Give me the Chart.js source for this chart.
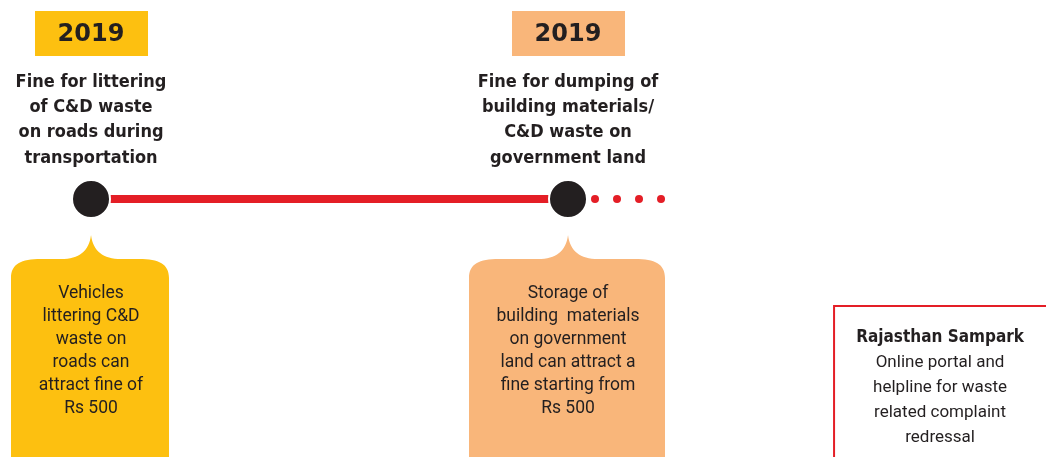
<html lang="en">

<head>
    <meta charset="UTF-8">
    <title>C&D waste fines - timeline</title>
    <script src="https://cdn.jsdelivr.net/npm/chart.js"></script>
    <style>
        html, body { margin: 0; padding: 0; background: #ffffff; }
        #wrap { position: relative; width: 1046px; height: 457px; }
    </style>
</head>

<body>
    <div id="wrap">
        <canvas id="chartCanvas"></canvas>
    </div>
    <script>
// timeline data
const positions = [0, 1];           // event slots along the timeline
const years = ['2019', '2019'];
const titles = [
    ['Fine for littering', 'of C&D waste', 'on roads during', 'transportation'],
    ['Fine for dumping of', 'building materials/', 'C&D waste on', 'government land']
];
const details = [
    ['Vehicles', 'littering C&D', 'waste on', 'roads can', 'attract fine of', 'Rs 500'],
    ['Storage of', 'building  materials', 'on government', 'land can attract a', 'fine starting from', 'Rs 500']
];
const trailEnd = 1.2;               // dotted continuation after last event
const noteAt = 1.78;
const noteTitle = 'Rajasthan Sampark';
const noteLines = ['Online portal and', 'helpline for waste', 'related complaint', 'redressal'];

// styles
const yearColors = ['#fdc010', '#f9b67a'];
const boxWidths = [158, 196];
const red = '#e41e26';
const ink = '#231f20';

// draws year tags, titles and the detail boxes around each node
const cardsPlugin = {
    id: 'cards',
    afterDraw(chart) {
        const ctx = chart.ctx;
        const xs = chart.scales.x;
        const y0 = chart.scales.y.getPixelForValue(0);
        const bottom = chart.height + 5;

        ctx.save();
        ctx.textAlign = 'center';
        ctx.textBaseline = 'middle';

        positions.forEach((p, i) => {
            const cx = xs.getPixelForValue(p);

            // year tag
            ctx.fillStyle = yearColors[i];
            ctx.fillRect(cx - 56, y0 - 188, 113, 45);
            ctx.fillStyle = ink;
            ctx.font = 'bold 24px "DejaVu Sans"';
            ctx.fillText(years[i], cx, y0 - 164);

            // title
            ctx.font = 'bold 18px "Liberation Sans Narrow", "DejaVu Sans Condensed"';
            titles[i].forEach((t, k) => ctx.fillText(t, cx, y0 - 117 + k * 25.3));

            // detail box with pointed top
            const w = boxWidths[i];
            const x0 = cx - w / 2 - 1, x1 = cx + w / 2 - 1;
            const yS = y0 + 60, yP = y0 + 36;
            ctx.beginPath();
            ctx.moveTo(x0, bottom);
            ctx.lineTo(x0, yS + 19);
            ctx.bezierCurveTo(x0, yS + 5, x0 + 10, yS, x0 + 30, yS);
            ctx.lineTo(cx - 30, yS);
            ctx.bezierCurveTo(cx - 12, yS, cx - 2, yS - 8, cx, yP);
            ctx.bezierCurveTo(cx + 2, yS - 8, cx + 12, yS, cx + 30, yS);
            ctx.lineTo(x1 - 30, yS);
            ctx.bezierCurveTo(x1 - 10, yS, x1, yS + 5, x1, yS + 19);
            ctx.lineTo(x1, bottom);
            ctx.closePath();
            ctx.fillStyle = yearColors[i];
            ctx.fill();

            ctx.fillStyle = ink;
            ctx.font = '17.5px Roboto';
            details[i].forEach((t, k) => ctx.fillText(t, cx, y0 + 95 + k * 23));
        });

        // note box, partly off the page
        const nx = xs.getPixelForValue(noteAt);
        ctx.strokeStyle = red;
        ctx.lineWidth = 2;
        ctx.strokeRect(nx - 106, y0 + 107, 260, 200);
        ctx.fillStyle = ink;
        ctx.font = 'bold 17px "Liberation Sans Narrow", "DejaVu Sans Condensed"';
        ctx.fillText(noteTitle, nx, y0 + 139);
        ctx.font = '17px Roboto';
        noteLines.forEach((t, k) => ctx.fillText(t, nx, y0 + 164 + k * 25));
        ctx.restore();
    }
};

const ctx = document.getElementById('chartCanvas').getContext('2d');
window.myChart = new Chart(ctx, {
    type: 'line',
    data: {
        datasets: [{
            // nodes
            data: positions.map(p => ({ x: p, y: 0 })),
            showLine: false,
            pointRadius: 19,
            pointBackgroundColor: ink,
            pointBorderColor: '#ffffff',
            pointBorderWidth: 2,
            order: 0
        }, {
            // solid line between events
            data: [{ x: positions[0], y: 0 }, { x: positions[positions.length - 1], y: 0 }],
            borderColor: red,
            borderWidth: 8,
            pointRadius: 0,
            order: 1
        }, {
            // dotted trail
            data: [{ x: positions[positions.length - 1], y: 0 }, { x: trailEnd, y: 0 }],
            borderColor: red,
            borderWidth: 8,
            borderCapStyle: 'round',
            borderDash: [0, 22],
            borderDashOffset: 17,
            pointRadius: 0,
            order: 2
        }]
    },
    options: {
        responsive: true,
        maintainAspectRatio: false,
        animation: false,
        layout: { padding: 0, autoPadding: false },
        plugins: {
            legend: { display: false },
            tooltip: { enabled: false }
        },
        scales: {
            x: { type: 'linear', min: -0.1908, max: 2.0021, display: false },
            y: { type: 'linear', min: -258, max: 199, display: false }
        }
    },
    plugins: [cardsPlugin]
});
    </script>
</body>

</html>
